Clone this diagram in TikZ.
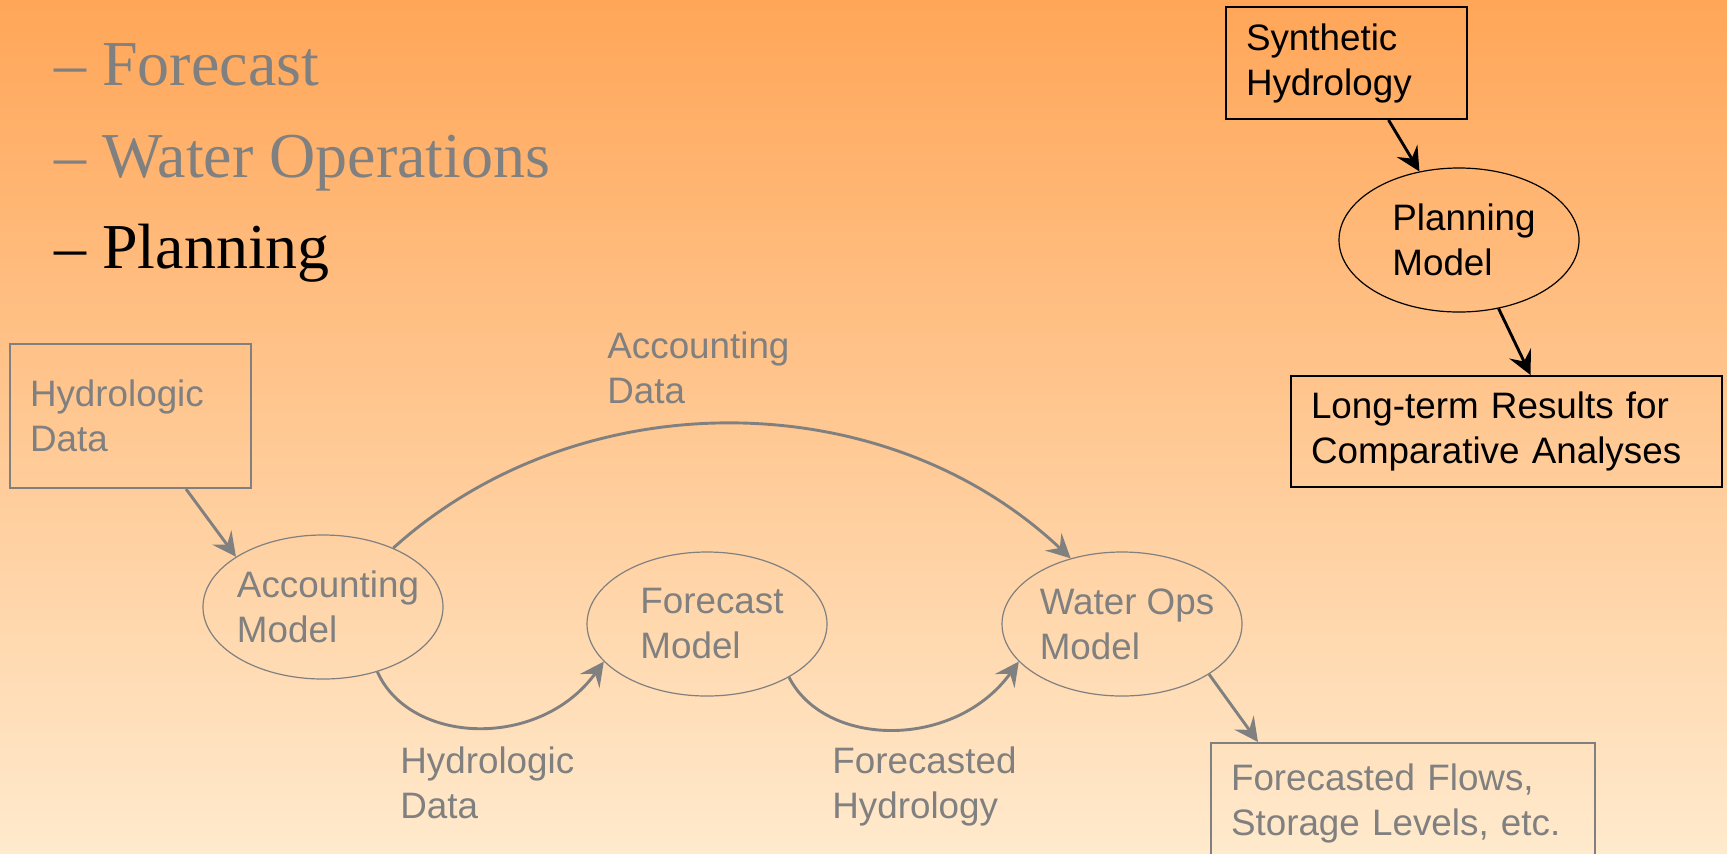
\documentclass[tikz,border=0pt]{standalone}
\usepackage{fontspec}
\setmainfont{Liberation Serif}
\setsansfont{Liberation Sans}
\usetikzlibrary{arrows.meta,shapes.geometric}
\definecolor{bgtop}{RGB}{255,166,88}
\definecolor{bgbot}{RGB}{255,234,205}

\begin{document}
\begin{tikzpicture}[x=0.5pt, y=-0.5pt,
  item/.style = {anchor=base west, inner sep=0pt, font=\fontsize{32}{46}\selectfont},
  box/.style = {draw, rectangle, line width=1pt, align=left, inner xsep=10pt, font=\sffamily\fontsize{18.4}{22.5}\selectfont},
  model/.style = {draw, ellipse, line width=0.6pt, minimum width=120pt, minimum height=72pt, inner sep=0pt},
  mtext/.style = {align=left, xshift=2.5pt, font=\sffamily\fontsize{18.4}{22.5}\selectfont},
  lbl/.style = {align=left, anchor=base west, inner sep=0pt, font=\sffamily\fontsize{18.4}{22.5}\selectfont},
  link/.style = {-{Stealth[length=12pt,width=12pt,inset=4.5pt]}, line width=1.45pt}]
\clip (0,0) rectangle (1727,853);
\shade[top color=bgtop, bottom color=bgbot] (0,0) rectangle (1727,853);

% topics
\node[item, gray] (t1) at (54,85) {-- Forecast};
\node[item, gray] (t2) at (54,177) {-- Water Operations};
\node[item] (t3) at (54,268) {-- Planning};

% planning
\node[box, text width=100.5pt, minimum height=56pt] (synth) at (1346.5,63) {Synthetic\\Hydrology};
\node[model] (plan) at (1459,240) {};
\node[mtext] (plantxt) at (plan) {Planning\\Model};
\node[box, text width=195.5pt, minimum height=55.5pt] (longterm) at (1506.5,431.5) {Long-term Results for\\Comparative Analyses};
\draw[link] ([xshift=21pt]synth.south) -- (plan.120);
\draw[link] (plan.-60) -- ([xshift=12pt]longterm.north);

% operations
\begin{scope}[gray]
\node[box, text width=100.5pt, minimum height=72pt] (hydro) at (130.5,416) {Hydrologic\\Data};
\node[model] (acc) at (323,607) {};
\node[mtext] (acctxt) at (acc) {Accounting\\Model};
\node[model] (fore) at (707,624) {};
\node[mtext] (foretxt) at (fore) {Forecast\\Model};
\node[model] (ops) at (1122,624) {};
\node[mtext] (opstxt) at (ops) {Water Ops\\Model};
\node[box, text width=172pt, minimum height=60pt] (flows) at (1403,803) {Forecasted Flows,\\Storage Levels, etc.};

\node[lbl] (acclbl) at (607,403) {Accounting\\Data};
\node[lbl] (hydlbl) at (400,818) {Hydrologic\\Data};
\node[lbl] (fcslbl) at (832,818) {Forecasted\\Hydrology};

\draw[link] ([xshift=27.75pt]hydro.south) -- (acc.150);
\draw[link] (acc.40) .. controls (578,381) and (883,381) .. (ops.128);
\draw[link] (acc.-50) .. controls (410,745) and (540,750) .. (fore.200);
\draw[link] (fore.-33) .. controls (825,748) and (955,750) .. (ops.200);
\draw[link] (ops.-30) -- ([xshift=-72.5pt]flows.north);
\end{scope}
\end{tikzpicture}
\end{document}
